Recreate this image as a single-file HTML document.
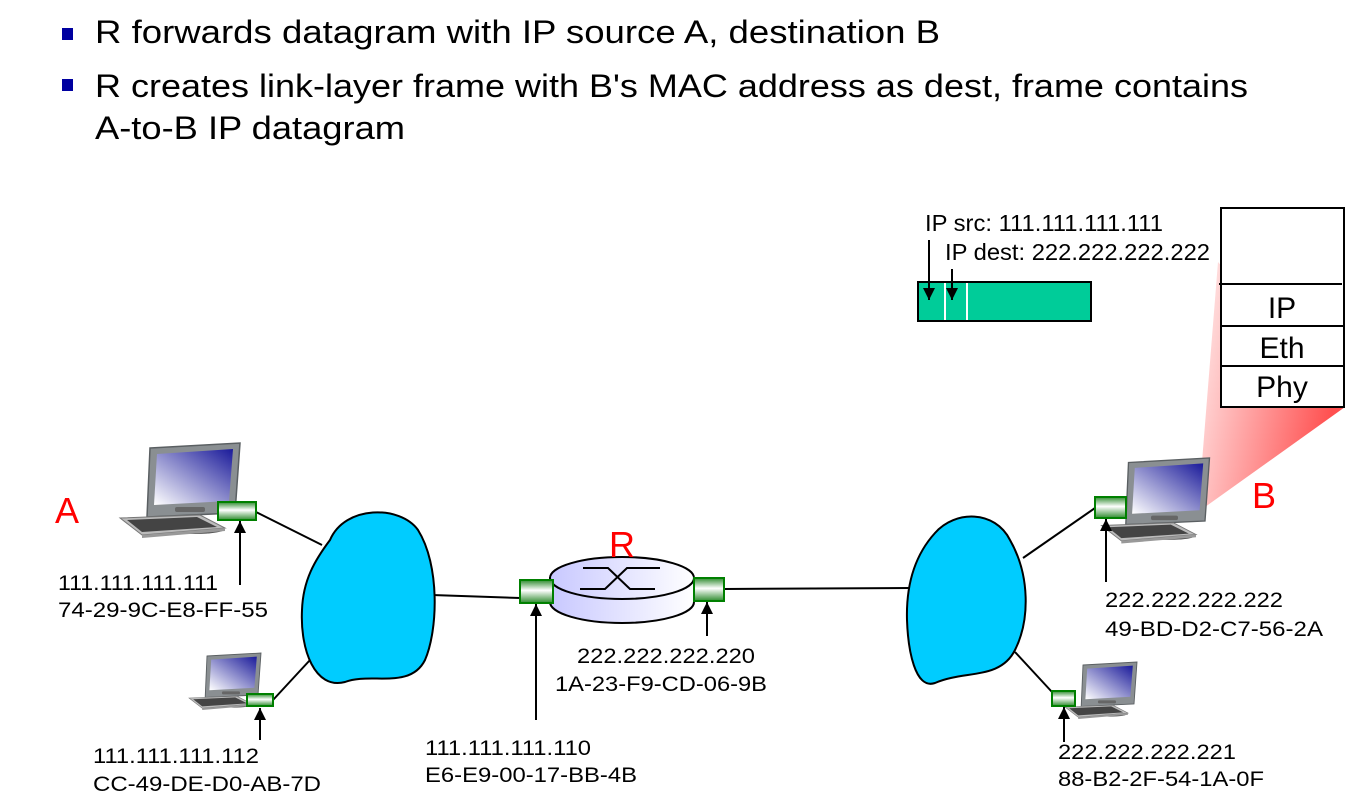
<!DOCTYPE html>
<html><head><meta charset="utf-8"><style>
html,body{margin:0;padding:0;background:#fff;}
svg{display:block;}
text{font-family:"Liberation Sans",Arial,sans-serif;}
</style></head><body>
<svg width="1364" height="799" viewBox="0 0 1364 799" xmlns="http://www.w3.org/2000/svg">
<defs>
<linearGradient id="scr" x1="1" y1="0" x2="0" y2="1"><stop offset="0" stop-color="#1a1a9a"/><stop offset="1" stop-color="#ffffff"/></linearGradient>
<linearGradient id="nic" x1="0" y1="0" x2="0" y2="1"><stop offset="0" stop-color="#2e8b2e"/><stop offset="0.45" stop-color="#ffffff"/><stop offset="1" stop-color="#2e8b2e"/></linearGradient>
<linearGradient id="rt" x1="0" y1="0" x2="1" y2="0"><stop offset="0" stop-color="#c8c8ff"/><stop offset="1" stop-color="#ffffff"/></linearGradient>
<linearGradient id="pink" x1="0" y1="0" x2="1" y2="0.3"><stop offset="0" stop-color="#fff0f0"/><stop offset="1" stop-color="#ff5050"/></linearGradient>
<marker id="ah" markerWidth="12" markerHeight="12" refX="12" refY="6" orient="auto" markerUnits="userSpaceOnUse"><path d="M0,0 L12,6 L0,12 z" fill="#000"/></marker>
<g id="pc">
  <!-- monitor -->
  <path d="M5,5 L95,0 L90,70 L2,74 Z" fill="#8a8f92" stroke="#5a5f62" stroke-width="1.5"/>
  <path d="M12,11 L88,6 L84,58 L9,62 Z" fill="url(#scr)"/>
  <rect x="30" y="64" width="30" height="5" rx="2" fill="#666"/>
  <!-- stand -->
  <path d="M38,74 L58,73 L62,84 L34,85 Z" fill="#333"/>
  <ellipse cx="50" cy="86" rx="30" ry="5" fill="#555"/>
  <!-- keyboard -->
  <path d="M-25,75 L55,72 L80,85 L-3,92 Z" fill="#bbb" stroke="#777" stroke-width="1"/>
  <path d="M-18,77 L52,74 L72,84 L-3,89 Z" fill="#444"/>
  <path d="M-3,92 L80,85 L80,88 L-3,95 Z" fill="#999"/>
</g>
</defs>

<!-- bullets -->
<rect x="62" y="28" width="11" height="12" fill="#0000a0"/>
<rect x="62" y="79" width="11" height="12" fill="#0000a0"/>
<text x="95" y="43" font-size="32" textLength="845" lengthAdjust="spacingAndGlyphs">R forwards datagram with IP source A, destination B</text>
<text x="95" y="97" font-size="32" textLength="1153" lengthAdjust="spacingAndGlyphs">R creates link-layer frame with B's MAC address as dest, frame contains</text>
<text x="95" y="139" font-size="32" textLength="310" lengthAdjust="spacingAndGlyphs">A-to-B IP datagram</text>

<!-- pink trapezoid -->
<polygon points="1218,262 1345,407 1198,512" fill="url(#pink)"/>
<!-- stack -->
<rect x="1221" y="208" width="123" height="199" fill="#fff" stroke="#000" stroke-width="2"/>
<line x1="1219" y1="284" x2="1342" y2="284" stroke="#000" stroke-width="2"/>
<line x1="1222" y1="326" x2="1344" y2="326" stroke="#000" stroke-width="2"/>
<line x1="1222" y1="366" x2="1344" y2="366" stroke="#000" stroke-width="2"/>
<text x="1282" y="318" font-size="30" text-anchor="middle">IP</text>
<text x="1282" y="358" font-size="30" text-anchor="middle">Eth</text>
<text x="1282" y="397" font-size="30" text-anchor="middle">Phy</text>

<!-- datagram -->
<rect x="918" y="282" width="173" height="39" fill="#00cc99" stroke="#000" stroke-width="2"/>
<line x1="945" y1="283" x2="945" y2="320" stroke="#fff" stroke-width="2"/>
<line x1="967" y1="283" x2="967" y2="320" stroke="#fff" stroke-width="2"/>
<text x="925" y="231" font-size="23" textLength="238" lengthAdjust="spacingAndGlyphs">IP src: 111.111.111.111</text>
<text x="945" y="260" font-size="23" textLength="265" lengthAdjust="spacingAndGlyphs">IP dest: 222.222.222.222</text>
<line x1="929" y1="240" x2="929" y2="300" stroke="#000" stroke-width="2" marker-end="url(#ah)"/>
<line x1="952" y1="269" x2="952" y2="300" stroke="#000" stroke-width="2" marker-end="url(#ah)"/>

<!-- links -->
<g stroke="#000" stroke-width="2">
<line x1="256" y1="512" x2="322" y2="545"/>
<line x1="273" y1="700" x2="310" y2="660"/>
<line x1="432" y1="595" x2="520" y2="598"/>
<line x1="724" y1="589" x2="910" y2="588"/>
<line x1="1023" y1="558" x2="1095" y2="508"/>
<line x1="1015" y1="652" x2="1052" y2="692"/>
</g>

<!-- clouds -->
<path d="M330,540 C345,505 400,505 418,530 C440,565 438,630 425,660 C410,690 370,672 345,682 C315,690 300,650 302,610 C303,580 315,560 330,540 Z" fill="#00ccff" stroke="#000" stroke-width="2"/>
<path d="M935,533 C955,510 995,510 1010,540 C1030,575 1030,620 1015,650 C1000,680 965,670 935,683 C915,690 908,650 907,620 C906,585 915,555 935,533 Z" fill="#00ccff" stroke="#000" stroke-width="2"/>

<!-- router -->
<path d="M550,578 L550,602 A72,21 0 0 0 694,602 L694,578 Z" fill="url(#rt)" stroke="#000" stroke-width="2"/>
<ellipse cx="622" cy="578" rx="72" ry="21" fill="url(#rt)" stroke="#000" stroke-width="2"/>
<path d="M583,568 L608,568 L630,589 L655,589 M580,589 L605,589 L627,568 L660,568" fill="none" stroke="#000" stroke-width="2"/>
<rect x="520" y="580" width="33" height="23" fill="url(#nic)" stroke="#008000" stroke-width="2"/>
<rect x="694" y="578" width="30" height="23" fill="url(#nic)" stroke="#008000" stroke-width="2"/>

<!-- computers -->
<use href="#pc" transform="translate(145,443)"/>
<use href="#pc" transform="translate(204,653) scale(0.6)"/>
<use href="#pc" transform="translate(1124,458) scale(0.9)"/>
<use href="#pc" transform="translate(1080,662) scale(0.6)"/>

<!-- NICs -->
<rect x="218" y="502" width="38" height="18" fill="url(#nic)" stroke="#008000" stroke-width="2"/>
<rect x="247" y="694" width="26" height="12" fill="url(#nic)" stroke="#008000" stroke-width="2"/>
<rect x="1095" y="497" width="31" height="21" fill="url(#nic)" stroke="#008000" stroke-width="2"/>
<rect x="1052" y="691" width="23" height="15" fill="url(#nic)" stroke="#008000" stroke-width="2"/>

<!-- arrows -->
<g stroke="#000" stroke-width="2">
<line x1="240" y1="585" x2="240" y2="521" marker-end="url(#ah)"/>
<line x1="260" y1="740" x2="260" y2="708" marker-end="url(#ah)"/>
<line x1="536" y1="720" x2="536" y2="604" marker-end="url(#ah)"/>
<line x1="707" y1="636" x2="707" y2="602" marker-end="url(#ah)"/>
<line x1="1106" y1="582" x2="1106" y2="519" marker-end="url(#ah)"/>
<line x1="1064" y1="742" x2="1064" y2="707" marker-end="url(#ah)"/>
</g>

<!-- labels -->
<g font-size="21">
<text x="58" y="590" textLength="160" lengthAdjust="spacingAndGlyphs">111.111.111.111</text>
<text x="58" y="617" textLength="210" lengthAdjust="spacingAndGlyphs">74-29-9C-E8-FF-55</text>
<text x="93" y="763" textLength="166" lengthAdjust="spacingAndGlyphs">111.111.111.112</text>
<text x="93" y="791" textLength="228" lengthAdjust="spacingAndGlyphs">CC-49-DE-D0-AB-7D</text>
<text x="425" y="755" textLength="166" lengthAdjust="spacingAndGlyphs">111.111.111.110</text>
<text x="425" y="782" textLength="212" lengthAdjust="spacingAndGlyphs">E6-E9-00-17-BB-4B</text>
<text x="577" y="663" textLength="178" lengthAdjust="spacingAndGlyphs">222.222.222.220</text>
<text x="555" y="691" textLength="212" lengthAdjust="spacingAndGlyphs">1A-23-F9-CD-06-9B</text>
<text x="1105" y="607" textLength="178" lengthAdjust="spacingAndGlyphs">222.222.222.222</text>
<text x="1105" y="636" textLength="218" lengthAdjust="spacingAndGlyphs">49-BD-D2-C7-56-2A</text>
<text x="1058" y="759" textLength="178" lengthAdjust="spacingAndGlyphs">222.222.222.221</text>
<text x="1058" y="786" textLength="206" lengthAdjust="spacingAndGlyphs">88-B2-2F-54-1A-0F</text>
</g>
<g font-size="36" fill="#ff0000">
<text x="55" y="523">A</text>
<text x="609" y="557">R</text>
<text x="1252" y="508">B</text>
</g>
</svg>
</body></html>
